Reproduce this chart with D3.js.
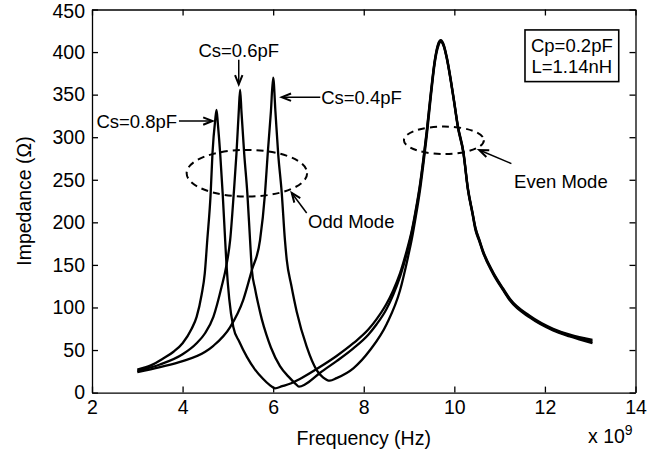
<!DOCTYPE html>
<html><head><meta charset="utf-8">
<script src="https://cdn.jsdelivr.net/npm/d3@7"></script>
<style>
html,body{margin:0;padding:0;background:#fff;}
svg{display:block;}
text{font-family:"Liberation Sans",Arial,Helvetica,sans-serif;fill:#000;}
</style></head>
<body>
<svg id="chart" width="659" height="457"></svg>
<script>
// ---- data (frequency in units of 10^9 Hz, impedance in ohm) ----
const f08 = [3.0,3.3,3.57,3.8,4.0,4.2,4.31,4.42,4.49,4.545,4.62,4.66,4.72,4.75,4.78,4.83,4.885,4.94,4.97,5.03,5.12,5.25,5.42,5.6,5.78,5.92,6.04,6.2,6.4,6.59,7.03,7.4,7.77,8.1,8.28,8.5,8.65,8.8,8.95,9.06,9.15,9.24,9.32,9.39,9.48,9.57,9.64,9.70,9.77,9.83,9.98,10.08,10.2,10.3,10.4,10.47,10.55,10.63,10.85,11.08,11.23,11.67,12.18,12.55,13.05];
const z08 = [27,32,40,48,58,75,89,115,140,179,234,281,320,332,315,281,234,179,150,110,77,60,42,27,16,9,5,7.5,11,16,30,43,58,74,86,104,120,140,167,190,215,244,276,307,352,391,409,414,408,395,348,313,283,240,212,193,180,167,142,122,110,90,75,68,62];
const f06 = [3.0,3.5,4.0,4.31,4.5,4.68,4.86,4.97,5.05,5.13,5.19,5.24,5.27,5.30,5.36,5.43,5.49,5.53,5.6,5.67,5.75,5.85,5.95,6.15,6.37,6.5,6.57,6.7,6.8,7.03,7.4,7.77,8.1,8.28,8.5,8.65,8.8,8.95,9.06,9.15,9.24,9.32,9.39,9.48,9.57,9.64,9.70,9.77,9.83,9.98,10.08,10.2,10.3,10.4,10.47,10.55,10.63,10.85,11.08,11.23,11.67,12.18,12.55,13.05];
const z06 = [25.5,33,45,58,70,89,124,150,179,234,281,330,356,330,281,234,179,144,122,104,86,68,53,31,17,10,7,9.5,13,23,37,52,68,80,98,115,136,163,188,213,242,274,305,350,390,408,413,407,394,347,312,282,239,211,192,179,166,141,121,109,89,74,67,60];
const f04 = [3.0,3.5,4.0,4.5,4.68,5.05,5.34,5.53,5.71,5.82,5.88,5.95,6.0,6.05,6.11,6.19,6.26,6.30,6.40,6.52,6.74,6.96,7.1,7.25,7.4,7.77,8.14,8.51,8.8,8.98,9.06,9.15,9.24,9.32,9.39,9.48,9.57,9.64,9.70,9.77,9.83,9.98,10.08,10.2,10.3,10.4,10.47,10.55,10.63,10.85,11.08,11.23,11.67,12.18,12.55,13.05];
const z04 = [24,30,37,48,55,77,109,144,179,234,281,330,370,330,281,234,179,156,126,95,54,26.5,18,14,17,28.5,50,81,120,160,180,207,237,270,301,347,388,406,412,406,393,346,311,281,238,210,190,178,165,140,120,108,88,73,66,58];
const seriesNames = ["Cs=0.8pF","Cs=0.6pF","Cs=0.4pF"];
const xTicks = [2,4,6,8,10,12,14];
const yTicks = [0,50,100,150,200,250,300,350,400,450];
const xLabel = "Frequency (Hz)";
const yLabel = "Impedance (\u03A9)";
const boxLines = ["Cp=0.2pF","L=1.14nH"];

// ---- layout ----
const svg = d3.select("#chart");
const L = 92, R = 635.5, T = 9.5, B = 392.6;
const x = d3.scaleLinear().domain([2,14]).range([L,R]);
const y = d3.scaleLinear().domain([0,450]).range([B,T]);
const FS = 19.5;

// axes (MATLAB-style box with inward ticks)
const gx = svg.append("g").attr("transform",`translate(0,${B})`)
  .call(d3.axisBottom(x).tickValues(xTicks).tickFormat(d3.format("d")).tickSizeInner(-6).tickSizeOuter(0).tickPadding(8));
const gxt = svg.append("g").attr("transform",`translate(0,${T})`)
  .call(d3.axisTop(x).tickValues(xTicks).tickFormat("").tickSizeInner(-6).tickSizeOuter(0));
const gy = svg.append("g").attr("transform",`translate(${L},0)`)
  .call(d3.axisLeft(y).tickValues(yTicks).tickFormat(d3.format("d")).tickSizeInner(-6).tickSizeOuter(0).tickPadding(7));
const gyr = svg.append("g").attr("transform",`translate(${R},0)`)
  .call(d3.axisRight(y).tickValues(yTicks).tickFormat("").tickSizeInner(-6).tickSizeOuter(0));
[gx,gxt,gy,gyr].forEach(g=>{
  g.selectAll("path,line").attr("stroke","#000").attr("stroke-width",1.3);
  g.selectAll("text").style("font-size",FS+"px").attr("fill","#000").style("font-family",'"Liberation Sans",Arial,sans-serif');
});
// keep the top tick label inside the page
gy.selectAll(".tick").filter(d=>d===450).select("text").attr("dy","0.42em");

// curves
const line = d3.line().x(d=>x(d[0])).y(d=>y(d[1])).curve(d3.curveMonotoneX);
const series = [d3.zip(f08,z08), d3.zip(f06,z06), d3.zip(f04,z04)];
svg.append("g").selectAll("path").data(series).join("path")
  .attr("d",line).attr("fill","none").attr("stroke","#000").attr("stroke-width",2.3)
  .attr("stroke-linejoin","round").attr("stroke-linecap","butt");

// axis labels
svg.append("text").attr("x",(L+R)/2).attr("y",445).attr("text-anchor","middle")
  .style("font-size",FS+"px").text(xLabel);
svg.append("text").attr("transform",`translate(31,${(T+B)/2}) rotate(-90)`).attr("text-anchor","middle")
  .style("font-size",FS+"px").text(yLabel);
const exp = svg.append("text").attr("x",588).attr("y",443).style("font-size",FS+"px");
exp.append("tspan").text("x 10");
exp.append("tspan").attr("dy",-8).style("font-size","14px").text("9");

// annotation helpers (positions given in data units)
const AFS = 18.5;
function arrow(x1,y1,x2,y2){
  const X1=x(x1),Y1=y(y1),X2=x(x2),Y2=y(y2);
  svg.append("line").attr("x1",X1).attr("y1",Y1).attr("x2",X2).attr("y2",Y2)
    .attr("stroke","#000").attr("stroke-width",1.5);
  const a=Math.atan2(Y2-Y1,X2-X1), len=10, w=0.38;
  const p1=[X2-len*Math.cos(a-w),Y2-len*Math.sin(a-w)], p2=[X2-len*Math.cos(a+w),Y2-len*Math.sin(a+w)];
  svg.append("path").attr("d",`M${p1}L${X2},${Y2}L${p2}`).attr("fill","none")
    .attr("stroke","#000").attr("stroke-width",2).attr("stroke-linejoin","miter");
}
function label(tx,ty,txt,anchor){
  svg.append("text").attr("x",x(tx)).attr("y",y(ty)).attr("text-anchor",anchor)
    .attr("dominant-baseline","central").style("font-size",AFS+"px").text(txt);
}
// Cs labels
label(3.88,319,seriesNames[0],"end");  arrow(3.92,319,4.66,319);
label(5.24,402,seriesNames[1],"middle"); arrow(5.24,391,5.24,362);
label(7.06,347,seriesNames[2],"start"); arrow(7.04,347,6.19,347);
// odd / even mode ellipses
function ellipse(cx,cy,rxu,ryu){
  svg.append("ellipse").attr("cx",x(cx)).attr("cy",y(cy))
    .attr("rx",x(cx+rxu)-x(cx)).attr("ry",y(cy)-y(cy+ryu))
    .attr("fill","none").attr("stroke","#000").attr("stroke-width",2).attr("stroke-dasharray","7,5");
}
ellipse(5.42,257.7,1.33,27.4);
ellipse(9.77,296.4,0.883,16.1);
arrow(6.74,211,6.41,234.5); label(6.77,200.4,"Odd Mode","start");
arrow(11.26,269,10.55,285); label(11.32,248,"Even Mode","start");
// parameter box
const bx0=x(11.56), bx1=x(13.63), by0=y(426.0), by1=y(365.3);
svg.append("rect").attr("x",bx0).attr("y",by0).attr("width",bx1-bx0).attr("height",by1-by0)
  .attr("fill","#fff").attr("stroke","#000").attr("stroke-width",1.6);
boxLines.forEach((t,i)=>{
  svg.append("text").attr("x",(bx0+bx1)/2).attr("y",by0+15.7+i*21).attr("text-anchor","middle")
    .attr("dominant-baseline","central").style("font-size",AFS+"px").text(t);
});
</script>
</body></html>
